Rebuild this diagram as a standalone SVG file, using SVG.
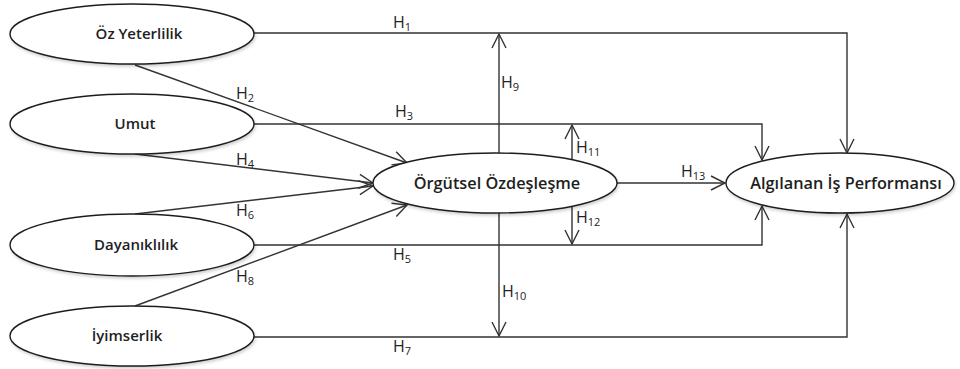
<svg xmlns="http://www.w3.org/2000/svg" width="960" height="369" viewBox="0 0 960 369">
<style>
.node{fill:#fff;stroke:#1e1e1e;stroke-width:1.4;filter:url(#sh)}
.nt{font-family:"Open Sans","Liberation Sans",sans-serif;font-weight:600;font-size:15px;fill:#1e1e1e;text-anchor:middle}
.big{font-size:16.3px}
.c{fill:none;stroke:#333;stroke-width:1.4}
.a{marker-end:url(#arr)}
.lb{font-family:"Open Sans","Liberation Sans",sans-serif;font-size:16px;fill:#222}
.sb{font-size:11px}
</style>
<defs>
<filter id="sh" x="-10%" y="-20%" width="120%" height="150%">
<feDropShadow dx="1" dy="2" stdDeviation="1.5" flood-color="#000" flood-opacity="0.18"/>
</filter>
<marker id="arr" markerUnits="userSpaceOnUse" markerWidth="20" markerHeight="20" refX="0" refY="0" viewBox="-16 -10 18 20" orient="auto">
<path d="M-14,-7 L0,0 L-14,7" fill="none" stroke="#333" stroke-width="1.4"/>
</marker>
</defs>
<rect width="960" height="369" fill="#fff"/>
<g id="connectors">
<polyline class="c a" points="254,33 847,33 847,153"/>
<polyline class="c a" points="254,124 762,124 762,160"/>
<polyline class="c a" points="254,245 762,245 762,206"/>
<polyline class="c a" points="254,337 847,337 847,214"/>
<line class="c a" x1="135" y1="65" x2="407" y2="163"/>
<line class="c a" x1="135" y1="154" x2="373" y2="183"/>
<line class="c a" x1="135" y1="214" x2="373" y2="186"/>
<line class="c a" x1="135" y1="306" x2="407" y2="205"/>
<line class="c a" x1="499" y1="153" x2="499" y2="34"/>
<line class="c a" x1="572" y1="160" x2="572" y2="125"/>
<line class="c a" x1="572" y1="206" x2="572" y2="244"/>
<line class="c a" x1="499" y1="213" x2="499" y2="336"/>
<line class="c a" x1="617" y1="183" x2="725" y2="183"/>
</g>
<g id="labels">
<text class="lb" x="393" y="28">H<tspan class="sb" dy="3">1</tspan></text>
<text class="lb" x="236" y="99">H<tspan class="sb" dy="3">2</tspan></text>
<text class="lb" x="395" y="117">H<tspan class="sb" dy="3">3</tspan></text>
<text class="lb" x="236" y="165">H<tspan class="sb" dy="3">4</tspan></text>
<text class="lb" x="393" y="260">H<tspan class="sb" dy="3">5</tspan></text>
<text class="lb" x="236" y="216">H<tspan class="sb" dy="3">6</tspan></text>
<text class="lb" x="393" y="352">H<tspan class="sb" dy="3">7</tspan></text>
<text class="lb" x="236" y="282">H<tspan class="sb" dy="3">8</tspan></text>
<text class="lb" x="501" y="88">H<tspan class="sb" dy="3">9</tspan></text>
<text class="lb" x="502" y="297">H<tspan class="sb" dy="3">10</tspan></text>
<text class="lb" x="576" y="153">H<tspan class="sb" dy="3">11</tspan></text>
<text class="lb" x="576" y="223">H<tspan class="sb" dy="3">12</tspan></text>
<text class="lb" x="681" y="177">H<tspan class="sb" dy="3">13</tspan></text>
</g>
<g id="oz-yeterlilik">
<ellipse class="node" cx="132" cy="34" rx="122" ry="30"/>
<text class="nt" x="139" y="39">Öz Yeterlilik</text>
</g>
<g id="umut">
<ellipse class="node" cx="132" cy="124" rx="122" ry="30"/>
<text class="nt" x="135" y="129">Umut</text>
</g>
<g id="dayaniklilik">
<ellipse class="node" cx="132" cy="245" rx="122" ry="31"/>
<text class="nt" x="136" y="250">Dayanıklılık</text>
</g>
<g id="iyimserlik">
<ellipse class="node" cx="132" cy="336" rx="122" ry="30"/>
<text class="nt" x="127" y="341">İyimserlik</text>
</g>
<g id="orgutsel-ozdeslesme">
<ellipse class="node" cx="495" cy="183" rx="122" ry="30"/>
<text class="nt big" x="497" y="189">Örgütsel Özdeşleşme</text>
</g>
<g id="algilanan-is-performansi">
<ellipse class="node" cx="840" cy="183" rx="114" ry="30"/>
<text class="nt big" x="846" y="189">Algılanan İş Performansı</text>
</g>
</svg>
